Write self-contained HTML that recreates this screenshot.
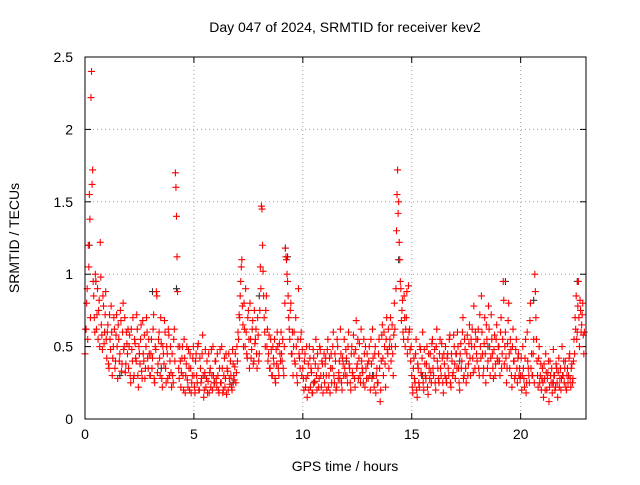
<!DOCTYPE html>
<html><head><meta charset="utf-8"><style>
body{margin:0;background:#fff;}
svg text{font-family:"Liberation Sans",sans-serif;font-size:14px;fill:#000;}
</style></head><body>
<svg id="chart" width="640" height="480" viewBox="0 0 640 480" xmlns="http://www.w3.org/2000/svg">
<text x="345" y="32" text-anchor="middle">Day 047 of 2024, SRMTID for receiver kev2</text>
<text x="345" y="471" text-anchor="middle">GPS time / hours</text>
<text x="19" y="238" text-anchor="middle" transform="rotate(-90 19 238)">SRMTID / TECUs</text>
<g id="grid"></g><g id="ticks"></g><g id="marks"></g>
<rect x="85" y="57" width="501" height="362" fill="none" stroke="#000" stroke-width="1"/>
</svg>
<script>
const xTicks=[0,5,10,15,20];
const yTicks=[0,0.5,1,1.5,2,2.5];
const yTickLabels=["0","0.5","1","1.5","2","2.5"];
const tStart=0, tStep=0.05, tOffset2=0.025;
const redValues=[
0.45,0.62,0.9,1.2,1.55,0.7,2.4,1.72,0.85,0.6,0.95,0.72,0.55,0.82,1.22,0.65,0.48,0.78,0.6,0.88,
0.42,0.65,0.35,0.55,0.78,0.3,0.5,0.62,0.4,0.72,0.28,0.55,0.45,0.68,0.38,0.8,0.5,0.32,0.6,0.45,
0.35,0.58,0.25,0.48,0.7,0.3,0.52,0.4,0.62,0.22,0.45,0.55,0.33,0.68,0.4,0.28,0.5,0.6,0.35,0.45,
0.3,0.55,0.42,0.72,0.25,0.48,0.85,0.38,0.6,0.3,0.52,0.22,0.45,0.68,0.35,0.5,0.28,0.58,0.4,0.32,
0.45,0.25,0.62,1.7,1.4,0.88,0.35,0.5,0.22,0.42,0.3,0.55,0.18,0.38,0.27,0.48,0.2,0.35,0.25,0.42,
0.3,0.18,0.45,0.25,0.52,0.2,0.35,0.28,0.58,0.15,0.32,0.22,0.4,0.26,0.18,0.35,0.48,0.2,0.3,0.25,
0.4,0.22,0.3,0.18,0.48,0.25,0.35,0.2,0.42,0.28,0.17,0.33,0.45,0.24,0.3,0.2,0.38,0.27,0.45,0.32,
0.4,0.55,0.7,0.95,1.1,0.65,0.8,0.5,0.6,0.42,0.75,0.35,0.55,0.48,0.68,0.4,0.52,0.62,0.35,0.58,
0.45,1.05,1.47,1.2,0.85,0.6,0.75,0.5,0.4,0.58,0.35,0.48,0.3,0.42,0.55,0.25,0.38,0.5,0.3,0.45,
0.6,0.4,0.35,0.5,1.18,1.1,0.95,0.7,0.55,0.8,0.45,0.3,0.6,0.38,0.5,0.25,0.9,0.42,0.55,0.3,
0.35,0.2,0.45,0.28,0.15,0.38,0.5,0.22,0.32,0.18,0.42,0.26,0.55,0.2,0.35,0.28,0.48,0.22,0.38,0.3,
0.25,0.42,0.2,0.55,0.3,0.18,0.45,0.35,0.6,0.25,0.4,0.22,0.5,0.32,0.28,0.45,0.2,0.38,0.55,0.3,
0.42,0.25,0.6,0.35,0.2,0.5,0.3,0.45,0.22,0.68,0.38,0.28,0.52,0.25,0.4,0.32,0.55,0.22,0.35,0.45,
0.28,0.5,0.2,0.38,0.62,0.3,0.45,0.18,0.35,0.25,0.55,0.12,0.4,0.65,0.3,0.5,0.22,0.7,0.45,0.35,
0.55,0.4,0.65,0.3,0.8,0.5,1.3,1.72,1.5,1.1,0.9,0.75,0.6,0.85,0.5,0.7,0.45,0.92,0.62,0.4,
0.3,0.18,0.42,0.25,0.55,0.15,0.35,0.22,0.48,0.3,0.6,0.2,0.38,0.28,0.5,0.17,0.35,0.45,0.25,0.55,
0.3,0.48,0.2,0.62,0.35,0.25,0.55,0.3,0.42,0.18,0.38,0.5,0.25,0.45,0.3,0.58,0.22,0.4,0.32,0.5,
0.28,0.45,0.6,0.35,0.2,0.52,0.4,0.7,0.3,0.48,0.25,0.58,0.38,0.65,0.3,0.5,0.42,0.78,0.35,0.55,
0.4,0.62,0.3,0.5,0.85,0.45,0.35,0.7,0.25,0.55,0.4,0.62,0.3,0.72,0.45,0.28,0.58,0.38,0.65,0.4,
0.5,0.3,0.7,0.45,0.95,0.38,0.6,0.25,0.52,0.8,0.35,0.48,0.22,0.62,0.4,0.3,0.55,0.25,0.45,0.35,
0.3,0.2,0.5,0.28,0.42,0.18,0.6,0.35,0.25,0.8,0.45,0.3,0.55,1.0,0.7,0.4,0.22,0.5,0.3,0.2,
0.35,0.15,0.28,0.45,0.2,0.32,0.12,0.4,0.25,0.18,0.48,0.3,0.22,0.35,0.15,0.42,0.28,0.2,0.5,0.3,
0.25,0.4,0.2,0.35,0.3,0.45,0.22,0.38,0.28,0.55,0.7,0.85,0.6,0.95,0.5,0.75,0.65,0.8,0.45
];
const redValues2=[
0.62,0.8,0.55,1.05,1.38,2.22,1.62,0.95,0.7,1.0,0.62,0.9,0.75,0.5,0.98,0.58,0.85,0.52,0.72,0.55,
0.6,0.38,0.72,0.48,0.6,0.42,0.7,0.35,0.58,0.5,0.65,0.4,0.75,0.33,0.6,0.48,0.7,0.38,0.52,0.62,
0.5,0.3,0.62,0.4,0.28,0.55,0.42,0.72,0.3,0.5,0.38,0.65,0.28,0.45,0.58,0.35,0.7,0.42,0.55,0.3,
0.45,0.35,0.62,0.28,0.5,0.88,0.32,0.55,0.42,0.7,0.28,0.5,0.38,0.6,0.25,0.45,0.62,0.3,0.5,0.22,
0.3,0.55,0.4,1.6,1.12,0.5,0.28,0.4,0.32,0.5,0.2,0.42,0.3,0.5,0.22,0.35,0.45,0.18,0.3,0.5,
0.22,0.4,0.3,0.5,0.2,0.42,0.25,0.45,0.3,0.2,0.48,0.28,0.18,0.45,0.32,0.22,0.3,0.5,0.25,0.4,
0.28,0.45,0.2,0.35,0.25,0.5,0.18,0.3,0.22,0.45,0.35,0.2,0.28,0.4,0.22,0.48,0.3,0.36,0.25,0.5,
0.6,0.72,0.85,1.05,0.78,0.5,0.62,0.9,0.45,0.7,0.55,0.8,0.42,0.62,0.38,0.75,0.55,0.45,0.7,0.4,
0.75,0.9,1.45,1.02,0.7,0.5,0.85,0.62,0.45,0.35,0.55,0.3,0.5,0.38,0.28,0.48,0.6,0.35,0.52,0.4,
0.45,0.55,0.3,0.8,1.12,1.0,0.85,0.62,0.75,0.45,0.6,0.5,0.4,0.7,0.3,0.55,0.45,0.35,0.6,0.48,
0.28,0.4,0.22,0.5,0.3,0.2,0.42,0.35,0.18,0.48,0.25,0.38,0.3,0.45,0.22,0.5,0.3,0.4,0.18,0.45,
0.38,0.3,0.48,0.22,0.42,0.35,0.25,0.5,0.3,0.45,0.2,0.55,0.28,0.4,0.62,0.25,0.42,0.3,0.35,0.48,
0.3,0.5,0.38,0.25,0.45,0.32,0.58,0.28,0.48,0.35,0.55,0.42,0.3,0.62,0.35,0.25,0.45,0.5,0.28,0.38,
0.4,0.3,0.55,0.28,0.42,0.22,0.5,0.3,0.25,0.45,0.35,0.2,0.58,0.42,0.6,0.38,0.55,0.48,0.62,0.5,
0.7,0.5,0.45,0.58,0.62,0.9,1.55,1.42,1.22,0.95,0.68,0.82,0.55,0.7,0.62,0.88,0.55,0.6,0.48,0.5,
0.22,0.35,0.28,0.45,0.2,0.38,0.25,0.5,0.32,0.42,0.25,0.48,0.3,0.38,0.22,0.45,0.28,0.32,0.52,0.35,
0.42,0.25,0.5,0.4,0.28,0.45,0.35,0.52,0.25,0.45,0.3,0.28,0.42,0.35,0.55,0.25,0.45,0.3,0.58,0.38,
0.45,0.35,0.5,0.25,0.45,0.35,0.6,0.28,0.55,0.35,0.45,0.3,0.52,0.42,0.55,0.62,0.32,0.5,0.6,0.45,
0.55,0.35,0.72,0.42,0.6,0.3,0.52,0.45,0.65,0.35,0.78,0.5,0.42,0.55,0.35,0.48,0.3,0.55,0.42,0.5,
0.4,0.6,0.35,0.55,0.82,0.5,0.42,0.35,0.68,0.45,0.55,0.3,0.5,0.4,0.28,0.48,0.35,0.42,0.3,0.28,
0.42,0.3,0.35,0.22,0.55,0.25,0.4,0.3,0.68,0.35,0.3,0.45,0.25,0.88,0.55,0.3,0.42,0.25,0.38,0.28,
0.25,0.38,0.2,0.32,0.28,0.4,0.22,0.3,0.35,0.25,0.3,0.2,0.38,0.25,0.32,0.22,0.35,0.28,0.3,0.4,
0.35,0.22,0.3,0.25,0.42,0.28,0.35,0.25,0.4,0.45,0.62,0.55,0.78,0.7,0.82,0.6,0.72,0.58,0.6
];
const blackTimes=[0.2,0.5,0.9,1.6,2.5,3.1,3.5,4.2,5.5,6.8,8.0,9.2,9.3,10.5,12.0,13.2,14.4,15.5,17.2,18.5,19.3,20.6,21.5,22.6];
const blackValues=[1.2,0.95,0.6,0.3,0.45,0.88,0.35,0.9,0.3,0.25,0.85,1.18,1.12,0.25,0.4,0.3,1.1,0.3,0.4,0.5,0.95,0.82,0.25,0.95];

const NS="http://www.w3.org/2000/svg";
const X0=85,X1=586,XMAX=23,Y0=419,Y1=57,YMAX=2.5;
function xs(t){return X0+(X1-X0)*t/XMAX;}
function ys(v){return Y0-(Y0-Y1)*v/YMAX;}
function mk(tag,attrs,parent){const e=document.createElementNS(NS,tag);for(const k in attrs)e.setAttribute(k,attrs[k]);parent.appendChild(e);return e;}
const grid=document.getElementById('grid'),ticks=document.getElementById('ticks'),marks=document.getElementById('marks');
xTicks.forEach(t=>{
  const x=xs(t);
  if(t>0){const g=mk('line',{x1:x,x2:x,y1:Y0,y2:Y1,stroke:'#a0a0a0','stroke-dasharray':'1,3'},grid);
  
  }
  mk('line',{x1:x,x2:x,y1:Y0,y2:Y0-6,stroke:'#000'},ticks);
  mk('line',{x1:x,x2:x,y1:Y1,y2:Y1+6,stroke:'#000'},ticks);
  const l=mk('text',{x:x,y:Y0+20,'text-anchor':'middle'},ticks);l.textContent=String(t);
  
  
});
yTicks.forEach((v,i)=>{
  const y=ys(v);
  if(v>0&&v<YMAX){const g=mk('line',{x1:X0,x2:X1,y1:y,y2:y,stroke:'#a0a0a0','stroke-dasharray':'1,3'},grid);
  
  }
  mk('line',{x1:X0,x2:X0+6,y1:y,y2:y,stroke:'#000'},ticks);
  mk('line',{x1:X1,x2:X1-6,y1:y,y2:y,stroke:'#000'},ticks);
  const l=mk('text',{x:X0-12,y:y+5,'text-anchor':'end'},ticks);l.textContent=yTickLabels[i];
  
  
});
function plus(x,y,color,name){
  const p=mk('path',{d:`M${x-3.5},${y}H${x+3.5}M${x},${y-3.5}V${y+3.5}`,stroke:color,'stroke-width':1.1,fill:'none'},marks);
  
  
}
blackTimes.forEach((t,i)=>plus(xs(t),ys(blackValues[i]),'#333','black-point'));
redValues.forEach((v,i)=>{
  const t=tStart+i*tStep;
  plus(xs(t),ys(v),'#ff0000','red-point');
});
redValues2.forEach((v,i)=>{
  const t=tStart+tOffset2+i*tStep;
  plus(xs(t),ys(v),'#ff0000','red-point');
});
</script>
</body></html>
